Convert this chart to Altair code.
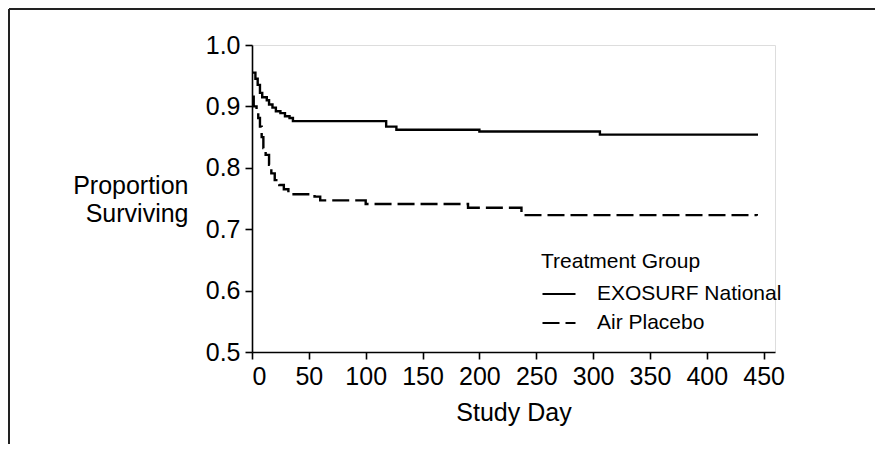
import altair as alt
import pandas as pd

# EXOSURF National (solid) Kaplan-Meier steps
exo_days = [0, 3, 5, 7, 9, 13, 15, 18, 21, 25, 29, 33, 36, 118, 127, 200, 306, 444]
exo_surv = [0.955, 0.945, 0.935, 0.922, 0.915, 0.910, 0.903, 0.898, 0.892, 0.889,
            0.884, 0.881, 0.876, 0.867, 0.862, 0.859, 0.854, 0.852]

# Air Placebo (dashed)
pla_days = [0, 1.5, 4, 5.5, 7, 8.5, 10, 12, 15, 17, 20, 24, 28, 32, 55, 60, 100, 190, 237, 444]
pla_surv = [0.916, 0.900, 0.894, 0.881, 0.867, 0.850, 0.832, 0.821, 0.805, 0.791,
            0.780, 0.772, 0.765, 0.757, 0.753, 0.747, 0.741, 0.735, 0.723, 0.722]

groups = ["EXOSURF National", "Air Placebo"]
x_ticks = [0, 50, 100, 150, 200, 250, 300, 350, 400, 450]
y_ticks = [0.5, 0.6, 0.7, 0.8, 0.9, 1.0]

df = pd.concat([
    pd.DataFrame({"day": exo_days, "surv": exo_surv, "group": groups[0], "order": range(len(exo_days))}),
    pd.DataFrame({"day": pla_days, "surv": pla_surv, "group": groups[1], "order": range(len(pla_days))}),
])

FONT = "Liberation Sans"
W, H = 523, 307

lines = alt.Chart(df).mark_line(interpolate="step-after", strokeWidth=2.4, color="black").encode(
    x=alt.X("day:Q",
            scale=alt.Scale(domain=[0, 460], nice=False, zero=False),
            axis=alt.Axis(values=x_ticks, title="Study Day", format="d",
                          labelFontSize=25, titleFontSize=25, titleFontWeight="normal",
                          tickSize=7, labelPadding=5, titlePadding=11,
                          domainColor="black", tickColor="black", labelColor="black", titleColor="black",
                          domainWidth=1.6, tickWidth=1.6, grid=False, labelFont=FONT, titleFont=FONT)),
    y=alt.Y("surv:Q",
            scale=alt.Scale(domain=[0.5, 1.0], nice=False, zero=False),
            axis=alt.Axis(values=y_ticks, format=".1f", title=["Proportion", "Surviving"],
                          labelFontSize=25, titleFontSize=25, titleFontWeight="normal",
                          titleAngle=0, titleAlign="right", titleBaseline="middle",
                          titleX=-64, titleY=140, titleLineHeight=28,
                          tickSize=7, labelPadding=5,
                          domainColor="black", tickColor="black", labelColor="black", titleColor="black",
                          domainWidth=1.6, tickWidth=1.6, grid=False, labelFont=FONT, titleFont=FONT)),
    strokeDash=alt.StrokeDash("group:N",
                              scale=alt.Scale(domain=groups, range=[[1, 0], [17, 6]]),
                              legend=alt.Legend(title="Treatment Group", orient="none",
                                                legendX=289, legendY=206,
                                                titleFontSize=21, labelFontSize=21,
                                                titleFontWeight="normal", titleFont=FONT, labelFont=FONT,
                                                titleColor="black", labelColor="black", labelLimit=0,
                                                symbolType="stroke", symbolSize=1089,
                                                symbolStrokeWidth=2.2, symbolStrokeColor="black",
                                                labelOffset=20, titlePadding=4, rowPadding=1)),
    order="order:Q",
)

frame_left = alt.Chart(pd.DataFrame({"k": [0]})).mark_rule(color="#222", strokeWidth=2).encode(
    x=alt.value(-243), y=alt.value(-36), y2=alt.value(H + 92))
frame_top = alt.Chart(pd.DataFrame({"k": [0]})).mark_rule(color="#222", strokeWidth=2).encode(
    x=alt.value(-243), x2=alt.value(W + 100), y=alt.value(-36))

chart = alt.layer(lines, frame_left, frame_top).properties(
    width=W, height=H,
    autosize=alt.AutoSizeParams(type="none"),
    padding={"left": 244, "top": 37, "right": 100, "bottom": 92},
    background="white",
).configure_view(stroke=None).configure(font=FONT)

chart.save("out.html", embed_options={"renderer": "svg", "actions": False})
